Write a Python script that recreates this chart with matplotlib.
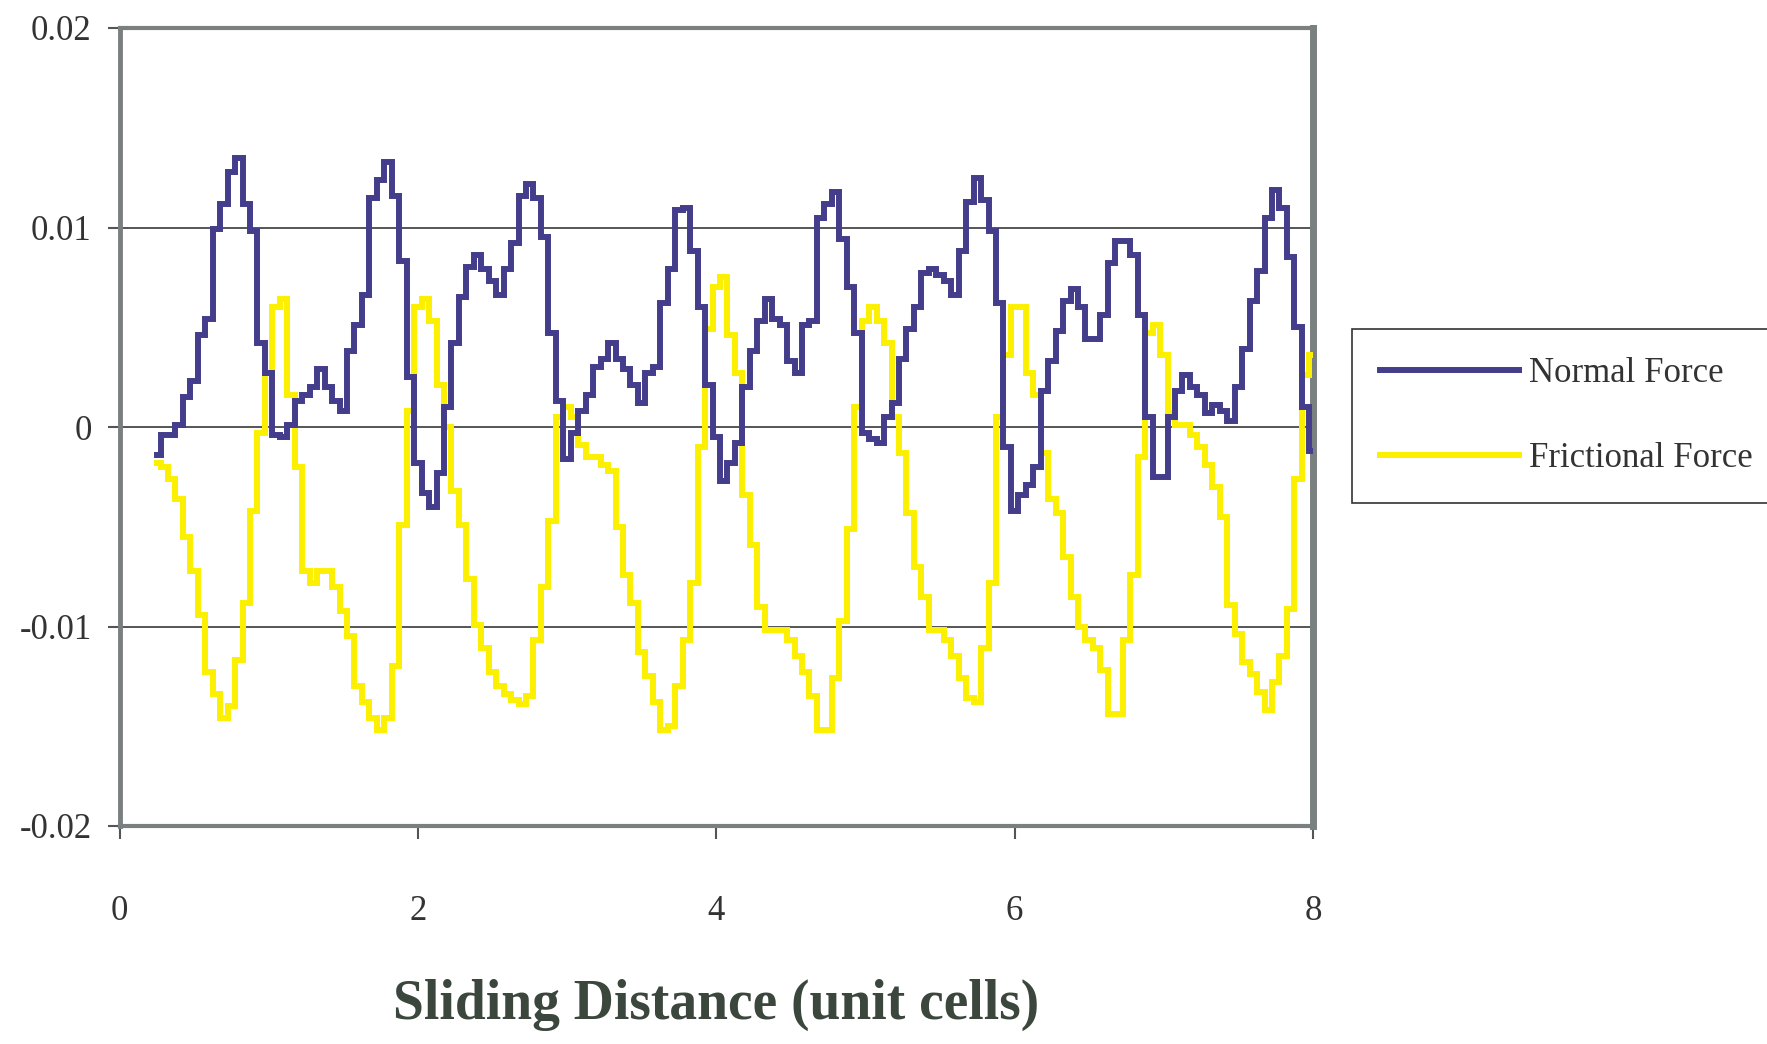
import numpy as np
import matplotlib
matplotlib.use("Agg")
import matplotlib.pyplot as plt

# Sliding distance sampled every 0.05 unit cells from 0.25 to 8.00
dist_start, dist_end = 0.25, 8.00

normal_force = [
    -0.0014, -0.0004, -0.0004, 0.0001, 0.0015, 0.0023, 0.0046, 0.0054, 0.0099, 0.0112,
    0.0128, 0.0135, 0.0112, 0.0098, 0.0042, 0.0027, -0.0004, -0.0005, 0.0001, 0.0013,
    0.0016, 0.0020, 0.0029, 0.0020, 0.0013, 0.0008, 0.0038, 0.0051, 0.0066, 0.0115,
    0.0124, 0.0133, 0.0116, 0.0083, 0.0025, -0.0018, -0.0033, -0.0040, -0.0023, 0.0010,
    0.0042, 0.0065, 0.0080, 0.0086, 0.0079, 0.0073, 0.0066, 0.0079, 0.0092, 0.0116,
    0.0122, 0.0115, 0.0095, 0.0047, 0.0013, -0.0016, -0.0003, 0.0008, 0.0016, 0.0030,
    0.0034, 0.0042, 0.0034, 0.0029, 0.0021, 0.0012, 0.0027, 0.0030, 0.0062, 0.0079,
    0.0109, 0.0110, 0.0088, 0.0060, 0.0021, -0.0005, -0.0027, -0.0018, -0.0008, 0.0020,
    0.0038, 0.0053, 0.0064, 0.0054, 0.0051, 0.0033, 0.0027, 0.0051, 0.0053, 0.0105,
    0.0112, 0.0118, 0.0094, 0.0070, 0.0047, -0.0003, -0.0006, -0.0008, 0.0005, 0.0012,
    0.0034, 0.0049, 0.0060, 0.0077, 0.0079, 0.0076, 0.0073, 0.0066, 0.0088, 0.0113,
    0.0125, 0.0114, 0.0098, 0.0062, -0.0010, -0.0042, -0.0034, -0.0029, -0.0020, 0.0018,
    0.0033, 0.0048, 0.0063, 0.0069, 0.0060, 0.0044, 0.0044, 0.0056, 0.0082, 0.0093,
    0.0093, 0.0086, 0.0056, 0.0005, -0.0025, -0.0025, 0.0005, 0.0018, 0.0026, 0.0020,
    0.0016, 0.0007, 0.0011, 0.0008, 0.0003, 0.0020, 0.0039, 0.0063, 0.0078, 0.0105,
    0.0119, 0.0110, 0.0085, 0.0050, 0.0010, -0.0012,
]

frictional_force = [
    -0.0018, -0.0020, -0.0026, -0.0036, -0.0055, -0.0072, -0.0094, -0.0123, -0.0134, -0.0146,
    -0.0140, -0.0117, -0.0088, -0.0042, -0.0003, 0.0027, 0.0060, 0.0064, 0.0016, -0.0020,
    -0.0072, -0.0078, -0.0072, -0.0072, -0.0080, -0.0092, -0.0105, -0.0130, -0.0138, -0.0146,
    -0.0152, -0.0146, -0.0120, -0.0049, 0.0008, 0.0060, 0.0064, 0.0053, 0.0021, 0.0000,
    -0.0032, -0.0049, -0.0076, -0.0099, -0.0111, -0.0123, -0.0130, -0.0134, -0.0137, -0.0139,
    -0.0135, -0.0107, -0.0080, -0.0047, 0.0005, 0.0010, 0.0005, -0.0009, -0.0015, -0.0015,
    -0.0019, -0.0022, -0.0050, -0.0074, -0.0088, -0.0113, -0.0125, -0.0138, -0.0152, -0.0150,
    -0.0130, -0.0107, -0.0078, -0.0010, 0.0049, 0.0070, 0.0075, 0.0046, 0.0027, -0.0034,
    -0.0059, -0.0090, -0.0102, -0.0102, -0.0102, -0.0107, -0.0115, -0.0123, -0.0135, -0.0152,
    -0.0152, -0.0126, -0.0097, -0.0051, 0.0010, 0.0053, 0.0060, 0.0053, 0.0042, 0.0005,
    -0.0013, -0.0043, -0.0070, -0.0085, -0.0102, -0.0102, -0.0107, -0.0115, -0.0126, -0.0136,
    -0.0138, -0.0111, -0.0078, 0.0005, 0.0036, 0.0060, 0.0060, 0.0027, 0.0016, -0.0013,
    -0.0036, -0.0043, -0.0065, -0.0085, -0.0100, -0.0107, -0.0111, -0.0122, -0.0144, -0.0144,
    -0.0107, -0.0074, -0.0015, 0.0047, 0.0051, 0.0036, 0.0007, 0.0001, 0.0001, -0.0004,
    -0.0010, -0.0019, -0.0030, -0.0045, -0.0089, -0.0104, -0.0118, -0.0124, -0.0133, -0.0142,
    -0.0128, -0.0115, -0.0091, -0.0026, 0.0026, 0.0036,
]

series_labels = ["Normal Force", "Frictional Force"]
x_ticks = [0, 2, 4, 6, 8]
x_tick_labels = ["0", "2", "4", "6", "8"]
y_ticks = [0.02, 0.01, 0.0, -0.01, -0.02]
y_tick_labels = ["0.02", "0.01", "0", "-0.01", "-0.02"]
x_label = "Sliding Distance (unit cells)"

distance_n = np.linspace(dist_start, dist_end, len(normal_force))
distance_f = np.linspace(dist_start, dist_end, len(frictional_force))

W, H = 1767, 1044
fig = plt.figure(figsize=(W / 100, H / 100), dpi=100)
fig.patch.set_facecolor("white")

left, right, top, bottom = 119.5, 1313, 28, 826
ax = fig.add_axes([left / W, 1 - bottom / H, (right - left) / W, (bottom - top) / H])
ax.set_facecolor("white")

blue = "#443d8c"
yellow = "#fcf000"

ax.plot(distance_f, frictional_force, color=yellow, lw=4.3, drawstyle="steps-mid",
        label=series_labels[1], zorder=3, solid_joinstyle="miter")
ax.plot(distance_n, normal_force, color=blue, lw=4.3, drawstyle="steps-mid",
        label=series_labels[0], zorder=4, solid_joinstyle="miter")

ax.set_xlim(0, 8)
ax.set_ylim(-0.02, 0.02)
ax.set_xticks(x_ticks)
ax.set_xticklabels(x_tick_labels)
ax.set_yticks(y_ticks)
ax.set_yticklabels(y_tick_labels)

ax.yaxis.grid(True, color="#555555", lw=1.4, zorder=1)
ax.set_axisbelow(True)

serif = ["Liberation Serif", "DejaVu Serif"]
ax.tick_params(axis="both", direction="out", color="#555555", width=1.5, length=9,
               labelcolor="#333333", labelsize=25)
ax.tick_params(axis="y", pad=11)
ax.tick_params(axis="x", pad=41)
for lbl in ax.get_xticklabels() + ax.get_yticklabels():
    lbl.set_family(serif)

for side, lw in [("left", 3.5), ("bottom", 3.0), ("top", 3.0), ("right", 5.0)]:
    ax.spines[side].set_color("#7a7f80")
    ax.spines[side].set_linewidth(lw)

ax.set_xlabel(x_label, family=serif, fontsize=40, fontweight="bold", color="#3b463d",
              labelpad=36)

handles, labels = ax.get_legend_handles_labels()
order = [labels.index(s) for s in series_labels]
leg = ax.legend([handles[i] for i in order], [labels[i] for i in order],
                loc="upper left", bbox_to_anchor=(1352 / W, 1 - 329 / H),
                bbox_transform=fig.transFigure, borderaxespad=0,
                prop={"family": serif, "size": 25}, handlelength=4.0,
                handletextpad=0.3, labelspacing=1.5, borderpad=0.8,
                fancybox=False, frameon=True, framealpha=1)
leg.get_frame().set_edgecolor("#333333")
leg.get_frame().set_linewidth(1.2)
for t in leg.get_texts():
    t.set_color("#333333")

fig.savefig("out.png", dpi=100)
